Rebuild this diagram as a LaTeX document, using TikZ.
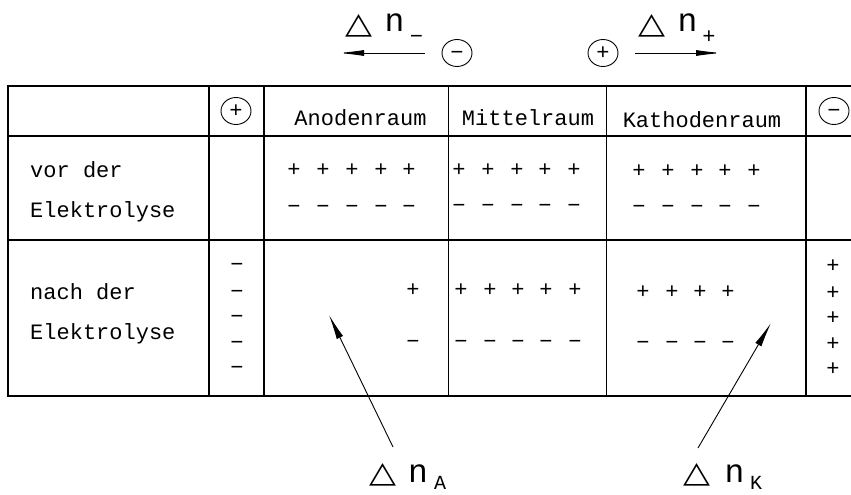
\documentclass[tikz,border=0pt]{standalone}
\usepackage{graphicx}
\usepackage{fontspec}
\newfontfamily\cadfont{Liberation Mono}
\newfontfamily\symfont{DejaVu Sans}
\usetikzlibrary{arrows.meta,shapes.geometric}
\newcommand{\deltaglyph}{\resizebox{27pt}{19pt}{\symfont △}}
\begin{document}
\begin{tikzpicture}[x=1pt,y=-1pt,
  gridline/.style={line width=1.4pt},
  innerline/.style={line width=1.0pt},
  txt/.style={font=\cadfont\fontsize{22}{26}\selectfont, inner sep=0pt, anchor=base west},
  headtxt/.style={font=\cadfont\fontsize{22}{26}\selectfont, inner sep=0pt, anchor=base},
  sgn/.style={font=\cadfont\fontsize{22}{26}\selectfont, inner sep=0pt, text height=13.2pt, text depth=0.4pt},
  pole/.style={sgn, ellipse, draw, line width=0.9pt, minimum width=30pt, minimum height=27pt},
  deltasym/.style={inner sep=0pt},
  bign/.style={font=\cadfont\fontsize{33}{36}\selectfont, inner sep=0pt, anchor=base},
  subtxt/.style={font=\cadfont\fontsize{20}{22}\selectfont, inner sep=0pt, anchor=base},
  ptr/.style={line width=0.9pt, -{Latex[length=25pt,width=7pt]}},
  flow/.style={line width=0.9pt, -{Latex[length=26pt,width=6pt]}}]
\useasboundingbox (0,0) rectangle (851,495);

% ---- top: migration directions
\node[deltasym] (dl) at (359,26) {\deltaglyph};
\node[bign] (nl) at (394.5,32) {n};
\node[sgn] (sl) at (416.5,37) {−};
\coordinate (fl1) at (425,53);
\coordinate (fl2) at (338,53);
\draw[flow] (fl1) -- (fl2);
\node[pole] (cm) at (457,53) {−};

\node[pole] (cp) at (603,53) {+};
\node[deltasym] (dr) at (651.5,26) {\deltaglyph};
\node[bign] (nr) at (687.5,32) {n};
\node[sgn] (sr) at (709,37.5) {+};
\coordinate (fr1) at (635,53);
\coordinate (fr2) at (722,53);
\draw[flow] (fr1) -- (fr2);

% ---- table grid
\draw[gridline] (851,86) -- (8,86) -- (8,396) -- (851,396);
\draw[gridline] (8,136) -- (851,136);
\draw[gridline] (8,240) -- (851,240);
\draw[gridline] (209,86) -- (209,396);
\draw[gridline] (264,86) -- (264,396);
\draw[innerline] (448,86) -- (448,396);
\draw[innerline] (606,86) -- (606,396);
\draw[gridline] (806,86) -- (806,396);

% ---- header
\node[pole] (hp) at (236,111) {+};
\node[headtxt] (ha) at (360.5,125) {Anodenraum};
\node[headtxt] (hm) at (528,125.5) {Mittelraum};
\node[headtxt] (hk) at (702,127) {Kathodenraum};
\node[pole] (hm2) at (834,111) {−};

% ---- row labels
\node[txt] (r1a) at (30,177) {vor der};
\node[txt] (r1b) at (30,217) {Elektrolyse};
\node[txt] (r2a) at (30,299) {nach der};
\node[txt] (r2b) at (30,339) {Elektrolyse};

% ---- row 1: before electrolysis
\foreach \x [count=\i] in {294,323,352,381,409}{
  \node[sgn] (ap\i) at (\x,170) {+};
  \node[sgn] (am\i) at (\x,207.5) {−};}
\foreach \x [count=\i] in {459,488,517,545,574}{
  \node[sgn] (mp\i) at (\x,170) {+};
  \node[sgn] (mm\i) at (\x,206) {−};}
\foreach \x [count=\i] in {639,668,697,725,754}{
  \node[sgn] (kp\i) at (\x,171) {+};
  \node[sgn] (km\i) at (\x,207) {−};}

% ---- row 2: after electrolysis
\foreach \y [count=\i] in {265,292,317,343,368}
  \node[sgn] (lm\i) at (237,\y) {−};
\foreach \y [count=\i] in {266,293,318,344,369}
  \node[sgn] (rp\i) at (833,\y) {+};
\node[sgn] (bap) at (413,290) {+};
\node[sgn] (bam) at (413,342) {−};
\foreach \x [count=\i] in {461,490,518,546,575}{
  \node[sgn] (bmp\i) at (\x,290) {+};
  \node[sgn] (bmm\i) at (\x,342) {−};}
\foreach \x [count=\i] in {643,672,700,728}{
  \node[sgn] (bkp\i) at (\x,292) {+};
  \node[sgn] (bkm\i) at (\x,343) {−};}

% ---- bottom pointers
\coordinate (pa1) at (393,447);
\coordinate (pa2) at (329,315);
\draw[ptr] (pa1) -- (pa2);
\coordinate (pk1) at (698,448);
\coordinate (pk2) at (771,323);
\draw[ptr] (pk1) -- (pk2);

\node[deltasym] (da) at (382.5,474.5) {\deltaglyph};
\node[bign] (na) at (418,482) {n};
\node[subtxt] (sa) at (440,489) {A};
\node[deltasym] (dk) at (696.5,474.5) {\deltaglyph};
\node[bign] (nk) at (734.5,482) {n};
\node[subtxt] (sk) at (756,489) {K};
\end{tikzpicture}
\end{document}
